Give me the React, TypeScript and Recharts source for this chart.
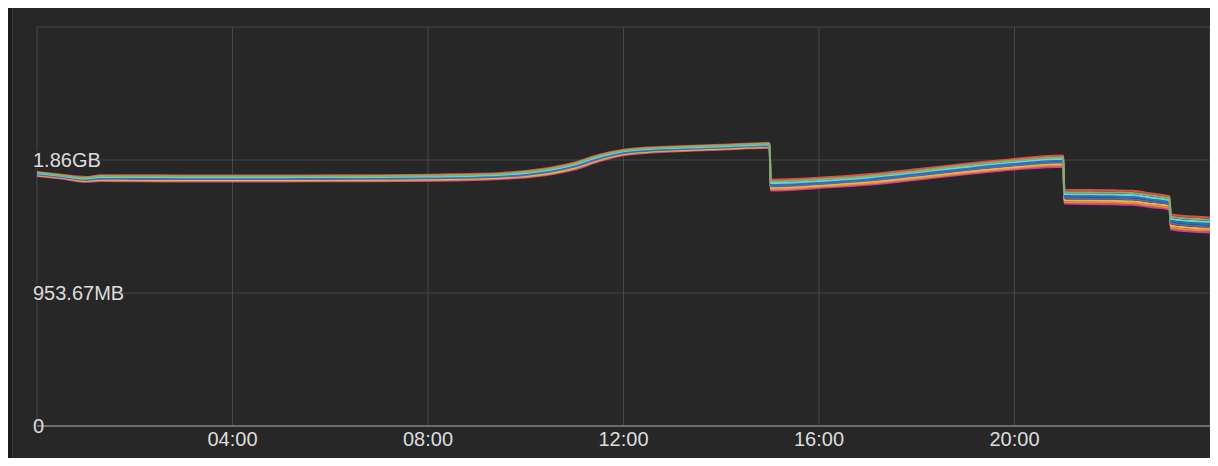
import React from "react";
import { LineChart, Line, XAxis, YAxis, CartesianGrid } from "recharts";

// hours of the day
const hours = [0, 0.5, 1, 1.3, 2, 3, 4, 5, 6, 7, 8, 8.98, 9.5, 10, 10.5, 11, 11.5, 12, 12.5, 13, 14, 14.99, 15.01, 16, 17, 18, 19, 20, 21.0, 21.02, 22, 22.4, 22.8, 23.17, 23.2, 24];

// memory in units of 1e9 bytes
const red = [1.910, 1.890, 1.872, 1.885, 1.885, 1.884, 1.884, 1.884, 1.885, 1.886, 1.890, 1.896, 1.903, 1.918, 1.942, 1.982, 2.040, 2.078, 2.094, 2.102, 2.114, 2.128, 1.852, 1.866, 1.892, 1.930, 1.972, 2.008, 2.034, 1.776, 1.772, 1.768, 1.748, 1.727, 1.590, 1.568];
const green = [1.906, 1.886, 1.867, 1.879, 1.878, 1.877, 1.877, 1.877, 1.878, 1.879, 1.883, 1.889, 1.896, 1.911, 1.934, 1.974, 2.033, 2.072, 2.088, 2.096, 2.109, 2.122, 1.840, 1.855, 1.880, 1.918, 1.960, 1.996, 2.021, 1.760, 1.756, 1.752, 1.733, 1.712, 1.573, 1.551];
const cyan = [1.901, 1.881, 1.861, 1.872, 1.872, 1.871, 1.871, 1.871, 1.872, 1.873, 1.876, 1.882, 1.889, 1.903, 1.926, 1.966, 2.025, 2.065, 2.082, 2.091, 2.103, 2.117, 1.827, 1.843, 1.869, 1.907, 1.948, 1.984, 2.009, 1.745, 1.740, 1.736, 1.717, 1.697, 1.556, 1.534];
const blue = [1.897, 1.877, 1.856, 1.866, 1.865, 1.864, 1.864, 1.864, 1.865, 1.866, 1.869, 1.875, 1.882, 1.896, 1.919, 1.958, 2.018, 2.059, 2.076, 2.085, 2.098, 2.111, 1.815, 1.832, 1.857, 1.895, 1.936, 1.972, 1.996, 1.729, 1.725, 1.721, 1.702, 1.682, 1.540, 1.517];
const purple = [1.892, 1.872, 1.850, 1.859, 1.858, 1.857, 1.857, 1.857, 1.858, 1.859, 1.862, 1.868, 1.875, 1.888, 1.911, 1.950, 2.010, 2.053, 2.070, 2.079, 2.092, 2.105, 1.803, 1.820, 1.845, 1.883, 1.924, 1.960, 1.984, 1.714, 1.709, 1.705, 1.686, 1.668, 1.523, 1.500];
const yellow = [1.888, 1.868, 1.845, 1.853, 1.851, 1.850, 1.850, 1.850, 1.851, 1.852, 1.855, 1.862, 1.869, 1.881, 1.903, 1.942, 2.003, 2.047, 2.064, 2.074, 2.087, 2.100, 1.791, 1.809, 1.834, 1.872, 1.912, 1.948, 1.971, 1.698, 1.693, 1.689, 1.671, 1.653, 1.506, 1.483];
const orange = [1.884, 1.864, 1.840, 1.847, 1.845, 1.844, 1.844, 1.844, 1.845, 1.846, 1.849, 1.856, 1.863, 1.874, 1.896, 1.935, 1.996, 2.041, 2.059, 2.069, 2.082, 2.095, 1.780, 1.799, 1.823, 1.861, 1.902, 1.938, 1.960, 1.685, 1.680, 1.676, 1.657, 1.640, 1.491, 1.469];
const pink = [1.880, 1.860, 1.836, 1.842, 1.840, 1.839, 1.839, 1.839, 1.840, 1.841, 1.843, 1.850, 1.857, 1.868, 1.890, 1.928, 1.990, 2.036, 2.054, 2.064, 2.078, 2.090, 1.770, 1.790, 1.814, 1.852, 1.892, 1.928, 1.950, 1.672, 1.667, 1.663, 1.645, 1.628, 1.478, 1.455];

const xTicks = [0, 4, 8, 12, 16, 20];
const yTicks = [0, 1, 2, 3];

const series = [
  { key: "pink", color: "#BA43A9", values: pink },
  { key: "orange", color: "#EF843C", values: orange },
  { key: "yellow", color: "#EAB839", values: yellow },
  { key: "purple", color: "#705DA0", values: purple },
  { key: "blue", color: "#1F78C1", values: blue },
  { key: "cyan", color: "#6ED0E0", values: cyan },
  { key: "red", color: "#E24D42", values: red },
  { key: "green", color: "#7EB26D", values: green },
];

const data = hours.map((h, i) => {
  const row: Record<string, number> = { t: h };
  series.forEach((s) => (row[s.key] = s.values[i]));
  return row;
});

function fmtBytes(v: number) {
  if (v === 0) return "0";
  const bytes = v * 1e9;
  if (bytes >= 1024 ** 3) return (bytes / 1024 ** 3).toFixed(2) + "GB";
  return (bytes / 1024 ** 2).toFixed(2) + "MB";
}

function fmtHour(h: number) {
  return String(h).padStart(2, "0") + ":00";
}

const labelFont = "'Liberation Sans', Arial, Helvetica, sans-serif";

function YTick(props: any) {
  const { x, y, payload } = props;
  if (payload.value === 3) return null;
  const label = fmtBytes(payload.value);
  const w = label.length * 10.8;
  return (
    <g>
      {payload.value > 0 && <rect x={x - 4} y={y - 9} width={w} height={17} fill="#272727" />}
      <text x={x - 4} y={y + 7} fill="#dddddd" fontSize={20} fontFamily={labelFont} textAnchor="start">
        {label}
      </text>
    </g>
  );
}

function XTick(props: any) {
  const { x, y, payload } = props;
  if (payload.value === 0) return null;
  return (
    <text x={x} y={y + 20} fill="#dddddd" fontSize={20} fontFamily={labelFont} textAnchor="middle">
      {fmtHour(payload.value)}
    </text>
  );
}

export default function App() {
  return (
    <div style={{ margin: -8, width: 1218, height: 466, background: "#272727", position: "relative", overflow: "hidden" }}>
      <div style={{ position: "absolute", left: 0, top: 0, width: 12, height: 466, background: "#1c1c1c" }} />
      <div style={{ position: "absolute", left: 12, top: 0, width: 1, height: 466, background: "#3a3a3a" }} />
      <div style={{ position: "absolute", left: 0, top: 50, width: 2, height: 80, background: "#e2ad76" }} />
      <div style={{ position: "absolute", left: 13, top: 0, width: 1205, height: 2, background: "#383838" }} />
      <div style={{ position: "absolute", left: 1207, top: 455, width: 16, height: 16, borderRadius: 8, background: "#555" }} />
      <div style={{ position: "absolute", left: 0, top: 0 }}>
        <LineChart width={1218} height={466} data={data} margin={{ top: 27, right: 8, bottom: 10, left: 0 }}>
          <CartesianGrid stroke="#474747" strokeWidth={1} />
          <XAxis
            dataKey="t"
            type="number"
            domain={[0, 24]}
            ticks={xTicks}
            height={30}
            tickLine={false}
            tickSize={0}
            tickMargin={0}
            axisLine={{ stroke: "#6e6e6e", strokeWidth: 2 }}
            tick={<XTick />}
            interval={0}
          />
          <YAxis
            type="number"
            domain={[0, 3]}
            ticks={yTicks}
            width={37}
            tickLine={false}
            tickSize={0}
            tickMargin={0}
            axisLine={false}
            tick={<YTick />}
            interval={0}
          />
          {series.map((s) => (
            <Line
              key={s.key}
              dataKey={s.key}
              stroke={s.color}
              strokeWidth={2}
              dot={false}
              type="monotone"
              isAnimationActive={false}
            />
          ))}
        </LineChart>
      </div>
    </div>
  );
}
